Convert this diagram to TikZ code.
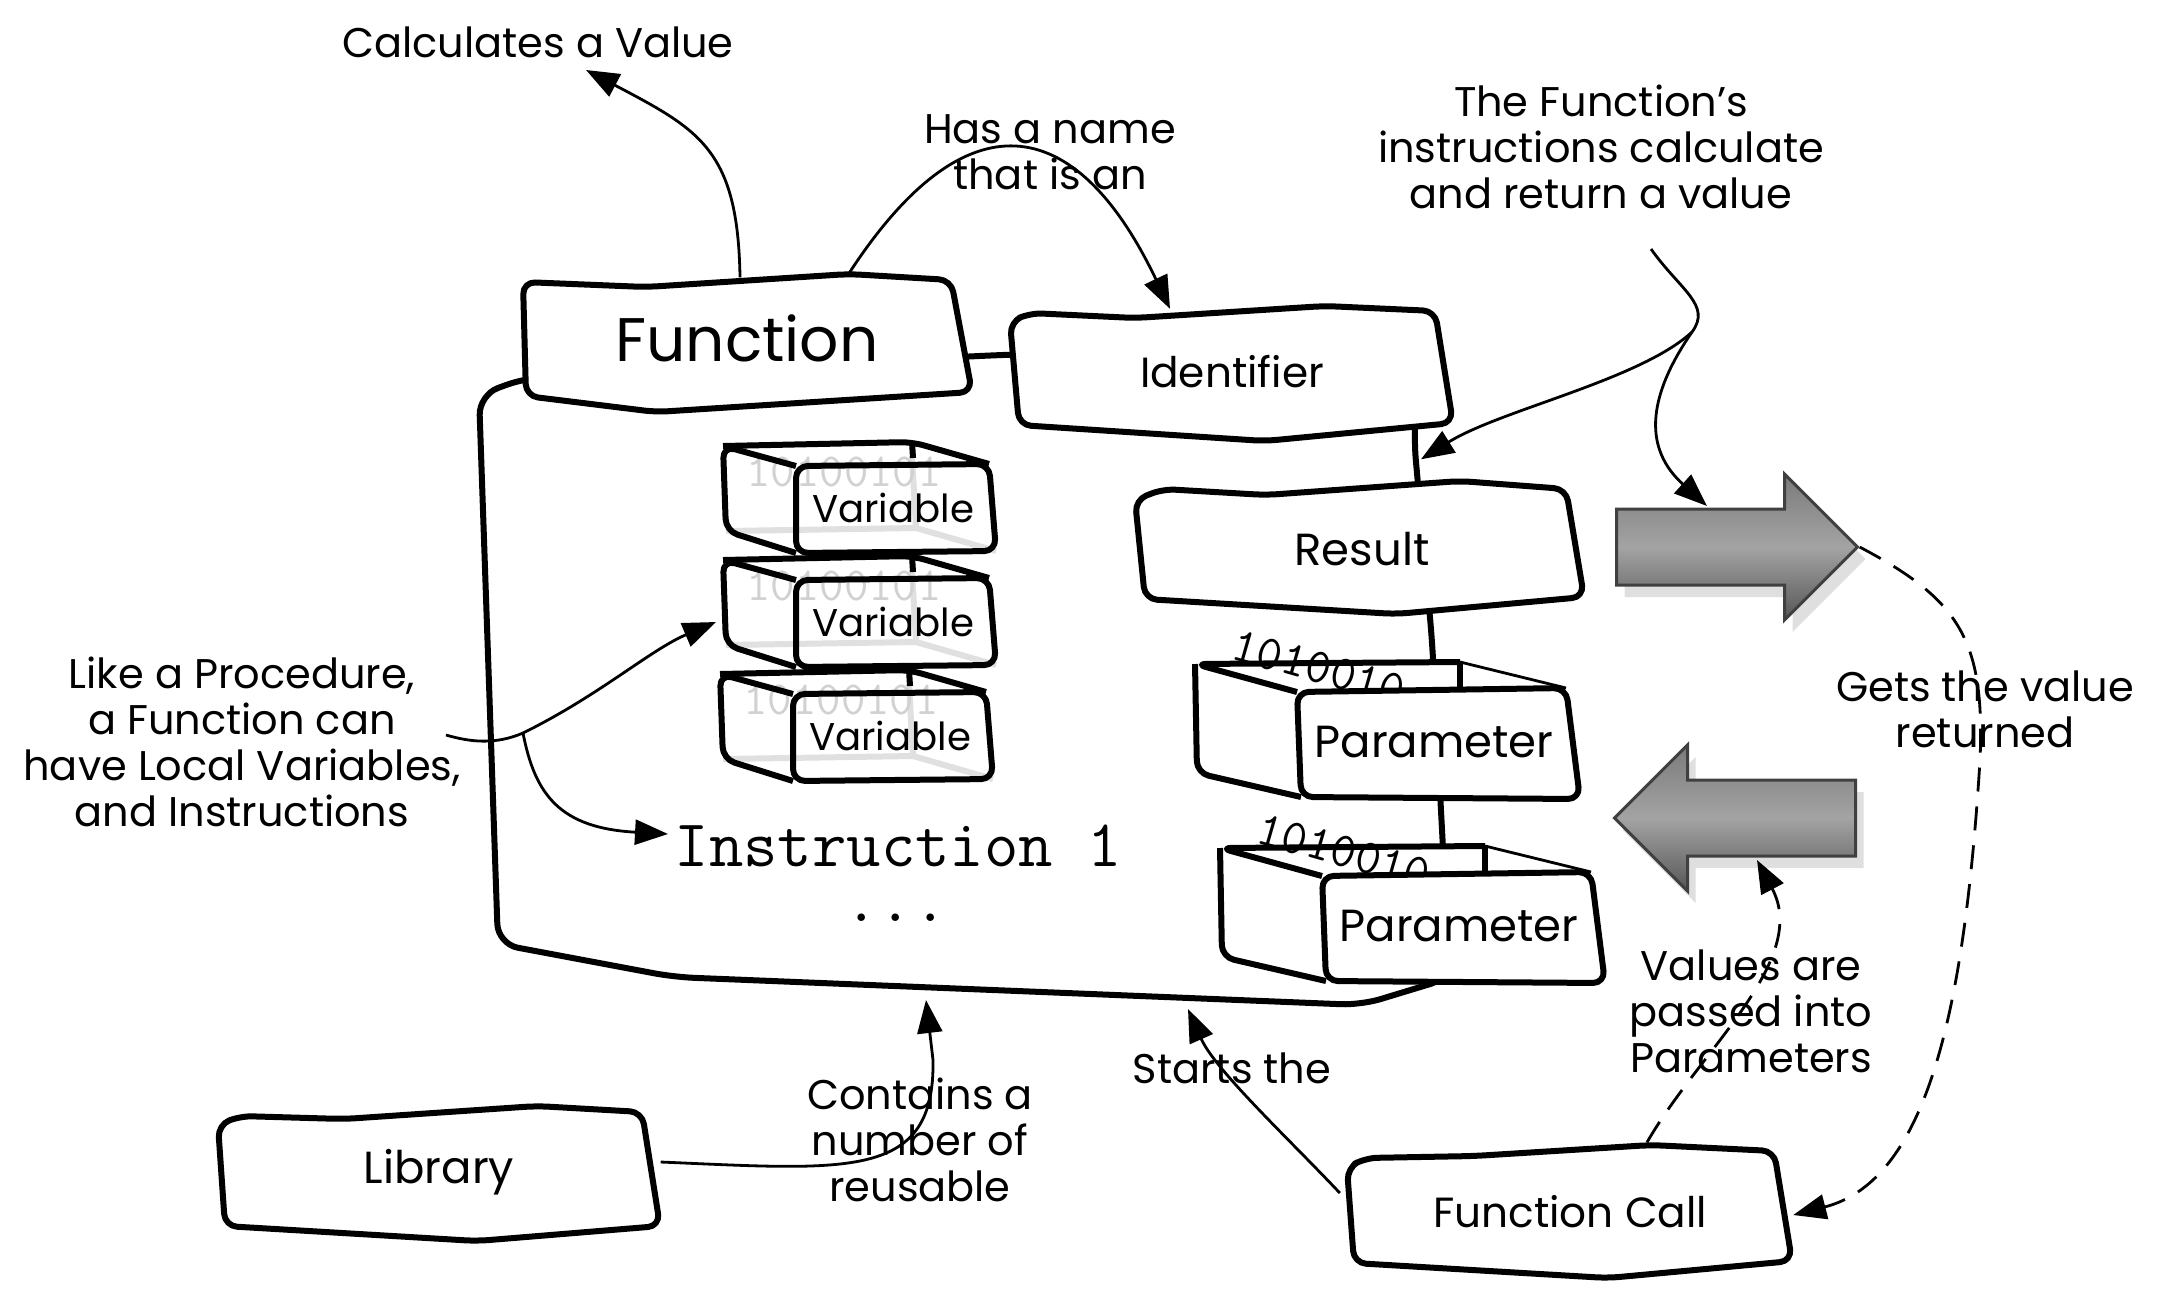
\documentclass[tikz,border=0pt]{standalone}
\usepackage{fontspec}
\setmainfont{Poppins}
\usetikzlibrary{calc,arrows.meta,shapes.arrows,shadows}

\tikzset{
	sketch/.style={line width=0.6mm, line join=round, rounded corners=1.2mm},
	ghost/.style={line width=0.6mm, color=black!12, line join=round},
	link/.style={line width=0.28mm},
	conn/.style={link, -{Triangle[length=3.3mm,width=2.5mm]}},
	dashconn/.style={conn, dash pattern=on 2.4mm off 1.5mm},
	note/.style={align=center, inner sep=0pt, font=\fontsize{11.8}{13.1}\selectfont},
	boxlabel/.style={inner sep=0pt, font=\fontsize{12}{13}\selectfont},
	bits/.style={inner sep=0pt, font=\ttfamily\fontsize{13.5}{14}\selectfont},
	bigarrow/.style={single arrow, single arrow tip angle=90, single arrow head extend=3.5mm,
		minimum height=24.1mm, minimum width=14.3mm, inner xsep=0pt, inner ysep=3.65mm,
		draw=black!75, line width=0.3mm,
		top color=black!52, bottom color=black!66, middle color=black!36,
		drop shadow={opacity=0.25, shadow xshift=0.8mm, shadow yshift=-1.2mm}}
}

% box with a transparent front, #1,#2 = front top left, #3 = name
\newcommand\varbox[3]{%
	\begin{scope}[shift={(#1,#2)}]
		\fill[white] (-73,-20) -- (116,-24) -- (193,-2) -- (200,85) -- (0,87) -- (-70,65) -- cycle;
		\draw[ghost] (116,-10) -- (120,62) -- (200,85);
		\draw[ghost] (-70,65) -- (120,62);
		\node[bits, color=black!18] at (48,6) {10100101};
		\draw[sketch] (-73,-20) -- (116,-24) -- (193,-2);
		\draw[sketch] (116,-24) -- (117,-8);
		\draw[sketch] (0,0) -- (-73,-20) -- (-70,65) -- (0,87);
		\draw[sketch] (0,0) -- (193,-2) -- (200,85) -- (0,87) -- cycle;
		\node[boxlabel, font=\fontsize{11}{12}\selectfont] (#3) at (97,42) {Variable};
	\end{scope}
}

% open box with bits sticking out
\newcommand\parambox[3]{%
	\begin{scope}[shift={(#1,#2)}]
		\fill[white] (0,0) -- (-102,-28) -- (163,-30) -- (269,-4) -- cycle;
		\fill[white] (0,0) -- (-102,-28) -- (-100,81) -- (4,105) -- cycle;
		\draw[sketch] (163,-30) -- (163,-2);
		\draw[link] (163,-30) -- (269,-4);
		\node[bits, font=\ttfamily\fontsize{14}{14}\selectfont, rotate=-16] at (22,-24) {1010010};
		\draw[sketch] (0,0) -- (-102,-28) -- (163,-30);
		\draw[sketch] (-102,-28) -- (-100,81) -- (4,105);
		\filldraw[sketch, fill=white] (0,0) -- (269,-4) -- (283,107) -- (4,105) -- cycle;
		\node[boxlabel, font=\fontsize{12.8}{14}\selectfont] (#3) at (137,50) {Parameter};
	\end{scope}
}

\begin{document}
\begin{tikzpicture}[x=0.1mm, y=-0.1mm]
	%%%%% START %%%%%
	
	\useasboundingbox (0,0) rectangle (2158,1306);
	
	% the function body
	\draw[sketch, rounded corners=2mm] (498,944) -- (479,395) -- (525,378) -- (1000,355) -- (1420,342)
		-- (1414,440) -- (1432,640) -- (1442,830) -- (1450,978) -- (1361,1005) -- (674,977) -- cycle;
	
	\filldraw[sketch, fill=white] (526,396) -- (523,282) -- (646,287) -- (849,274) -- (951,280) -- (972,392) -- (656,412) -- cycle;
	\node[boxlabel, font=\fontsize{17.5}{19}\selectfont, minimum width=44.9mm, minimum height=12mm] (function) at (747,338) {Function};
	
	\filldraw[sketch, fill=white] (1019,425) -- (1010,322) -- (1030,313) -- (1135,318) -- (1325,306) -- (1435,311) -- (1453,423) -- (1265,441) -- cycle;
	\node[boxlabel, minimum width=43mm, minimum height=11.5mm] (identifier) at (1232,372) {Identifier};
	
	\filldraw[sketch, fill=white] (1145,599) -- (1135,500) -- (1163,489) -- (1266,495) -- (1460,481) -- (1566,489) -- (1584,597) -- (1396,614) -- cycle;
	\node[boxlabel, font=\fontsize{12.8}{14}\selectfont, minimum width=44.5mm, minimum height=11mm] (result) at (1362,549) {Result};
	
	\varbox{796}{466}{var1}
	\varbox{796}{580}{var2}
	\varbox{793}{694}{var3}
	
	\parambox{1297}{692}{param1}
	\parambox{1322}{876}{param2}
	
	\node[anchor=west, inner sep=0pt, font=\ttfamily\fontsize{19}{21}\selectfont] (instr) at (674,846) {Instruction 1};
	\node[inner sep=0pt, font=\ttfamily\fontsize{19}{21}\selectfont] (dots) at (896,918) {...};
	
	% outside the function
	\filldraw[sketch, fill=white] (225,1226) -- (218,1125) -- (240,1116) -- (344,1119) -- (537,1106) -- (642,1112) -- (660,1226) -- (477,1241) -- cycle;
	\node[boxlabel, font=\fontsize{12.8}{14}\selectfont, minimum width=44mm, minimum height=11mm] (library) at (439,1172) {Library};
	
	\filldraw[sketch, fill=white] (1354,1263) -- (1347,1168) -- (1365,1158) -- (1474,1156) -- (1651,1145) -- (1774,1151) -- (1792,1261) -- (1608,1278) -- cycle;
	\node[boxlabel, minimum width=44.5mm, minimum height=11mm] (fcall) at (1570,1212) {Function Call};
	
	\node[bigarrow] (retarrow) at (1718,547) {};
	\node[bigarrow, shape border rotate=180] (callarrow) at (1754,818) {};
	
	\coordinate (entrylib) at (926,1000);
	\coordinate (entrycall) at (1188,1009);
	
	% notes
	\node[note] (calcval) at (538,42) {Calculates a Value};
	\node[note] (hasname) at (1050,152) {Has a name\\that is an};
	\node[note] (fninstr) at (1601,147) {The Function’s\\instructions calculate\\and return a value};
	\node[note] (getsval) at (1985,709) {Gets the value\\returned};
	\node[note] (valpass) at (1751,1011) {Values are\\passed into\\Parameters};
	\node[note] (startsthe) at (1232,1068) {Starts the};
	\node[note] (contains) at (920,1140) {Contains a\\number of\\reusable};
	\node[note] (likeproc) at (242,742) {Like a Procedure,\\a Function can\\have Local Variables,\\and Instructions};
	
	% connectors
	\draw[conn] ($(function.north)+(-7,0)$) .. controls (738,150) and (700,130) .. ($(calcval)+(48,28)$);
	\draw[conn] ($(function.north)+(102,-4)$) .. controls (965,95) and (1075,110) .. ($(identifier.north)+(-62,-5)$);
	
	\draw[link] ($(fninstr)+(50,102)$) .. controls (1680,290) and (1712,305) .. (1692,332) coordinate (fork);
	\draw[conn] (fork) .. controls (1640,380) and (1500,410) .. ($(result.north)+(59,-34)$);
	\draw[conn] (fork) .. controls (1645,400) and (1645,450) .. ($(retarrow.center)+(-11,-41)$);
	
	\draw[dashconn] (retarrow.tip) .. controls (1960,600) and (1985,640) .. (1980,760)
		.. controls (1965,1000) and (1930,1180) .. ($(fcall.east)+(0,3)$);
	\draw[dashconn] ($(fcall.north)+(77,-14)$) .. controls (1700,1050) and (1810,960) .. ($(callarrow.center)+(3,42)$);
	
	\draw[conn] ($(fcall.west)+(-7,-19)$) .. controls (1290,1140) and (1215,1070) .. (entrycall);
	\draw[conn] ($(library.east)+(1,-10)$) .. controls (850,1170) and (935,1180) .. (933,1060) -- (entrylib);
	
	\draw[link] ($(likeproc)+(204,-7)$) .. controls (470,742) and (495,745) .. (523,733) coordinate (lpfork);
	\draw[conn] (lpfork) .. controls (600,695) and (650,650) .. ($(var2)+(-177,0)$);
	\draw[conn] (lpfork) .. controls (535,795) and (560,828) .. ($(instr.west)+(-6,-12)$);
	
	%%%%% END %%%%%
\end{tikzpicture}
\end{document}
